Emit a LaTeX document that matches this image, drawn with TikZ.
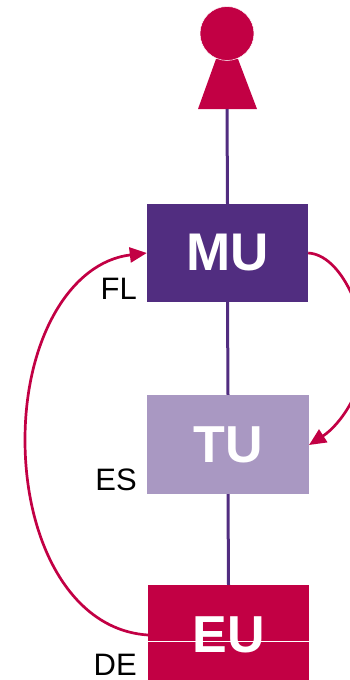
\documentclass[tikz,border=0pt]{standalone}
\usepackage{fontspec}
\setmainfont{Liberation Sans}
\usetikzlibrary{arrows.meta}
\definecolor{crim}{HTML}{C20044}
\definecolor{purp}{HTML}{512D80}
\definecolor{lilac}{HTML}{A998C2}
\tikzset{
  box/.style={draw=none,inner sep=0pt,text=white,font=\bfseries},
  tag/.style={inner sep=0pt,anchor=base east,font=\fontsize{31}{31}\selectfont,text=black},
  stem/.style={draw=purp,line width=3pt},
  loopline/.style={draw=crim,line width=2.7pt,-{Triangle[length=17pt,width=15pt,fill=crim]}},
}
\begin{document}
\begin{tikzpicture}[x=1pt,y=-1pt]
\useasboundingbox (0,0) rectangle (349,680);
\fill[crim] (216,59) -- (238,59) -- (257,109) -- (198,109) -- cycle;
\node[circle,fill=crim,draw=white,line width=0.5pt,minimum size=54pt,inner sep=0pt] (head) at (227,33.5) {};
\coordinate (foot) at (227,109);
\node[box,fill=purp,minimum width=161pt,minimum height=98pt,font=\bfseries\fontsize{53}{53}\selectfont] (mu) at (227.5,253) {MU};
\node[box,fill=lilac,minimum width=162pt,minimum height=99pt,font=\bfseries\fontsize{52}{52}\selectfont] (tu) at (228,444.5) {TU};
\node[box,fill=crim,minimum width=161pt,minimum height=95pt] (eu) at (228.5,632.5) {};
\draw[white,line width=0.7pt] (148,641) -- (309,641);
\node[box,font=\bfseries\fontsize{52}{52}\selectfont] (eutext) at (228.5,635) {EU};
\draw[stem] (foot) -- (mu.north);
\draw[stem] (mu.south) -- (tu.north);
\draw[stem] (tu.south) -- (eu.north);
\node[tag] (fl) at (137,299) {FL};
\node[tag] (es) at (137,490) {ES};
\node[tag] (de) at (137,675) {DE};
\coordinate (eul) at (148,635);
\coordinate (tur) at (309,445);
\draw[loopline] (eul) .. controls (70,630) and (25,540) .. (25,440) .. controls (25,340) and (70,262) .. (mu.west);
\draw[loopline] (mu.east) .. controls (342,255) and (365,315) .. (365,350) .. controls (365,390) and (340,425) .. (tur);
\end{tikzpicture}
\end{document}
